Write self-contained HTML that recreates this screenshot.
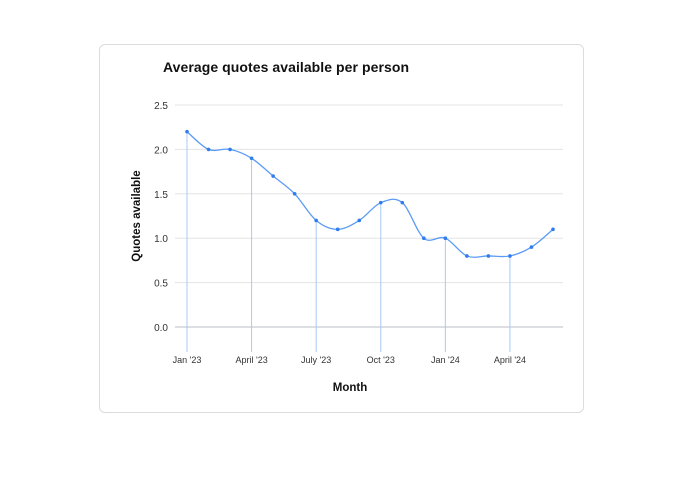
<!DOCTYPE html>
<html><head><meta charset="utf-8"><style>
body{margin:0;background:#fff;width:700px;height:482px;overflow:hidden;font-family:"Liberation Sans",sans-serif}
#card{position:absolute;left:99px;top:44px;width:485px;height:369px;border:1px solid #dcdcdc;border-radius:6px;box-sizing:border-box}
</style></head><body>
<div id="card"></div>
<svg id="chart" width="700" height="482" style="position:absolute;left:0;top:0">
<text x="163" y="72" font-size="14" font-weight="bold" fill="#111" textLength="246">Average quotes available per person</text>
<text transform="translate(140,216) rotate(-90)" text-anchor="middle" font-size="11.5" font-weight="bold" fill="#111">Quotes available</text>
<text x="350" y="391" text-anchor="middle" font-size="11.5" font-weight="bold" fill="#111">Month</text>
<g id="grid"></g><g id="drops"></g><path id="line" fill="none" stroke="#5b9bf5" stroke-width="1.3"></path><g id="pts"></g><g id="xt"></g>
</svg>
<script>
const months=["Jan '23","Feb '23","Mar '23","April '23","May '23","June '23","July '23","Aug '23","Sep '23","Oct '23","Nov '23","Dec '23","Jan '24","Feb '24","Mar '24","April '24","May '24","June '24"];
const values=[2.2,2.0,2.0,1.9,1.7,1.5,1.2,1.1,1.2,1.4,1.4,1.0,1.0,0.8,0.8,0.8,0.9,1.1];
const yTicks=[0,0.5,1,1.5,2,2.5];
const xLabelIdx=[0,3,6,9,12,15];
const NS="http://www.w3.org/2000/svg";
const X=i=>187+i*(553-187)/17;
const Y=v=>327-v*(327-105)/2.5;
function el(t,a,p){const e=document.createElementNS(NS,t);for(const k in a)e.setAttribute(k,a[k]);document.getElementById(p).appendChild(e);return e;}
yTicks.forEach(v=>{
 const l=el('line',{x1:175,x2:563,y1:Y(v),y2:Y(v),stroke:v===0?'#b9bec4':'#e3e3e3','stroke-width':1},'grid');
 
 
 const t=el('text',{x:168,y:Y(v)+4,'text-anchor':'end','font-size':10,fill:'#333'},'grid');
 t.textContent=v.toFixed(1);
 
 
});
xLabelIdx.forEach(i=>{
 const l=el('line',{x1:X(i),x2:X(i),y1:Y(values[i]),y2:352,stroke:'#a9c9f7','stroke-width':1},'drops');
 
 
 const t=el('text',{x:X(i),y:363,'text-anchor':'middle','font-size':9,fill:'#333'},'xt');
 t.textContent=months[i];
 
 
});
const P=values.map((v,i)=>[X(i),Y(v)]);
let d='M'+P[0][0]+','+P[0][1];
for(let i=0;i<P.length-1;i++){
 const p0=P[Math.max(i-1,0)],p1=P[i],p2=P[i+1],p3=P[Math.min(i+2,P.length-1)];
 d+=' C'+(p1[0]+(p2[0]-p0[0])/6)+','+(p1[1]+(p2[1]-p0[1])/6)+' '+(p2[0]-(p3[0]-p1[0])/6)+','+(p2[1]-(p3[1]-p1[1])/6)+' '+p2[0]+','+p2[1];
}
document.getElementById('line').setAttribute('d',d);
P.forEach(p=>{
 const c=el('circle',{cx:p[0],cy:p[1],r:1.8,fill:'#2f7cf0'},'pts');
 
 
});
</script>
</body></html>
